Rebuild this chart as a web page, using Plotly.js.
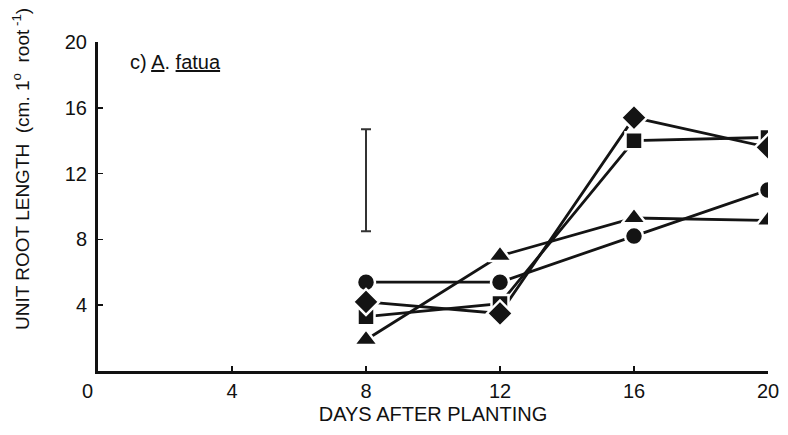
<!DOCTYPE html>
<html><head><meta charset="utf-8">
<script src="https://cdn.plot.ly/plotly-3.0.1.min.js"></script>
<style>html,body{margin:0;padding:0;background:#fff}#chart{width:788px;height:435px}</style>
</head><body><div id="chart"></div>
<script>
const days = [8, 12, 16, 20];
const circleSeries = [5.4, 5.4, 8.2, 11.0];
const triangleSeries = [1.9, 7.0, 9.3, 9.15];
const squareSeries = [3.3, 4.1, 14.0, 14.2];
const diamondSeries = [4.2, 3.5, 15.4, 13.6];
const errDay = [8];
const errCenter = [11.6];
const errHalf = [3.1];
const xTickVals = [4, 8, 12, 16, 20];
const xTickText = ['4', '8', '12', '16', '20'];
const yTickVals = [4, 8, 12, 16, 20];
const yTickText = ['4', '8', '12', '16', '20'];

const ink = '#141414';
const series = [
  {y: circleSeries, sym: 'circle', size: 18},
  {y: triangleSeries, sym: 'triangle-up', size: 21},
  {y: squareSeries, sym: 'square', size: 17},
  {y: diamondSeries, sym: 'diamond', size: 20}
];
const traces = [];
series.forEach(s => traces.push({x: days, y: s.y, type: 'scatter', mode: 'lines',
  line: {color: ink, width: 2.8}, hoverinfo: 'skip', showlegend: false}));
series.forEach(s => traces.push({x: days, y: s.y, type: 'scatter', mode: 'markers',
  marker: {symbol: s.sym, size: s.size, color: ink, line: {color: '#fff', width: 2.5}},
  showlegend: false}));
traces.push({x: errDay, y: errCenter, type: 'scatter', mode: 'markers',
  marker: {size: 1, color: 'rgba(0,0,0,0)'},
  error_y: {type: 'data', array: errHalf, visible: true, color: '#333', thickness: 2, width: 5},
  showlegend: false});

const font = {family: 'Liberation Sans, Arial, sans-serif', color: '#111'};
const layout = {
  width: 788, height: 435,
  margin: {l: 98, r: 20, t: 42, b: 64},
  paper_bgcolor: '#fff', plot_bgcolor: '#fff',
  font: Object.assign({size: 17}, font),
  xaxis: {range: [0, 20], tickvals: xTickVals, ticktext: xTickText,
    showgrid: false, zeroline: false, showline: true, linecolor: '#111', linewidth: 3,
    ticks: 'inside', ticklen: 5, tickwidth: 1.5, tickcolor: '#111',
    tickfont: Object.assign({size: 20}, font),
    title: {text: 'DAYS AFTER PLANTING', font: Object.assign({size: 20}, font), standoff: 6}},
  yaxis: {range: [0, 20], tickvals: yTickVals, ticktext: yTickText,
    showgrid: false, zeroline: false, showline: true, linecolor: '#111', linewidth: 3,
    ticks: 'inside', ticklen: 5, tickwidth: 1.5, tickcolor: '#111',
    ticklabelstandoff: 4,
    tickfont: Object.assign({size: 20}, font)},
  annotations: [
    {text: 'UNIT ROOT LENGTH  (cm. 1<sup>o</sup>  root<sup> -1</sup>)', textangle: -90,
     xref: 'paper', yref: 'paper', x: -0.116, y: 0.615, xanchor: 'center', yanchor: 'middle',
     showarrow: false, font: Object.assign({size: 19}, font)},
    {text: 'c) <u>A</u>. <u>fatua</u>', xref: 'paper', yref: 'paper', x: 0.045, y: 0.94,
     xanchor: 'left', yanchor: 'middle', showarrow: false, font: Object.assign({size: 20}, font)},
    {text: '0', xref: 'paper', yref: 'paper', x: -0.015, y: -0.02, xanchor: 'center', yanchor: 'top',
     showarrow: false, font: Object.assign({size: 20}, font)}
  ]
};
Plotly.newPlot('chart', traces, layout, {displayModeBar: false, staticPlot: true});
</script></body></html>
